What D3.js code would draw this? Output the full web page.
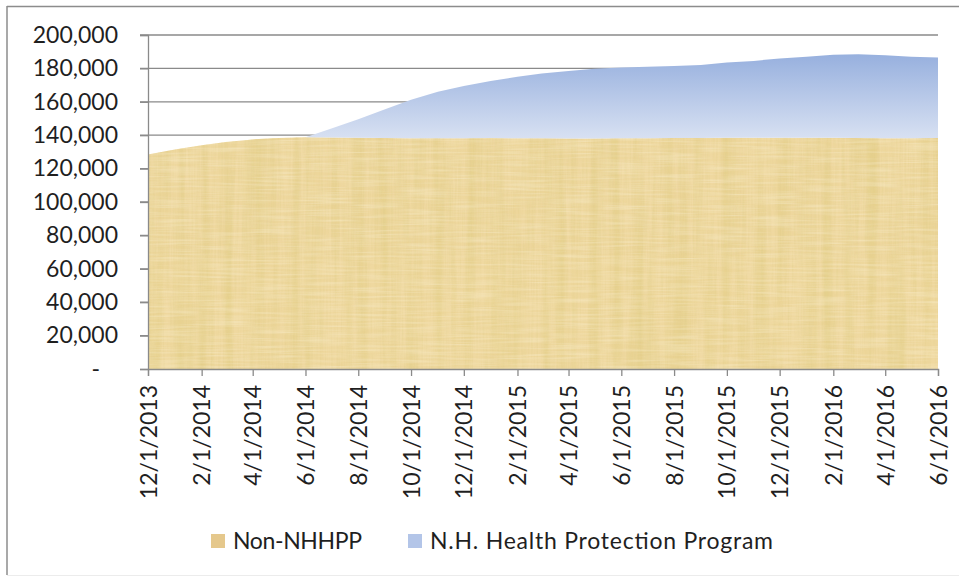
<!DOCTYPE html>
<html>
<head>
<meta charset="utf-8">
<script src="https://cdn.jsdelivr.net/npm/d3@7"></script>
<style>
  body { margin: 0; background: #fff; }
  svg { display: block; }
</style>
</head>
<body>
<svg id="chart"></svg>
<script>
const width = 959;
const height = 580;

// monthly enrollment, 12/1/2013 .. 6/1/2016
const months = [
  "12/1/2013", "1/1/2014", "2/1/2014", "3/1/2014", "4/1/2014", "5/1/2014", "6/1/2014",
  "7/1/2014", "8/1/2014", "9/1/2014", "10/1/2014", "11/1/2014", "12/1/2014",
  "1/1/2015", "2/1/2015", "3/1/2015", "4/1/2015", "5/1/2015", "6/1/2015",
  "7/1/2015", "8/1/2015", "9/1/2015", "10/1/2015", "11/1/2015", "12/1/2015",
  "1/1/2016", "2/1/2016", "3/1/2016", "4/1/2016", "5/1/2016", "6/1/2016"
];
const nonNHHPP = [
  128500, 131500, 134000, 136000, 137500, 138300, 138800,
  138600, 138400, 138300, 138200, 138100, 138200,
  138300, 138200, 138100, 138000, 138000, 138100,
  138200, 138300, 138300, 138400, 138400, 138500,
  138500, 138400, 138300, 138200, 138200, 138300
];
const nhhpp = [
  0, 0, 0, 0, 0, 0, 0,
  5400, 11100, 17200, 23100, 27900, 31300,
  34200, 36800, 38900, 40500, 41800, 42400,
  42800, 43200, 43700, 45100, 46100, 47500,
  48500, 49800, 50200, 49600, 48800, 48300
];
const tickDates = [
  "12/1/2013", "2/1/2014", "4/1/2014", "6/1/2014", "8/1/2014", "10/1/2014", "12/1/2014",
  "2/1/2015", "4/1/2015", "6/1/2015", "8/1/2015", "10/1/2015", "12/1/2015",
  "2/1/2016", "4/1/2016", "6/1/2016"
];
const yTicks = [0, 20000, 40000, 60000, 80000, 100000, 120000, 140000, 160000, 180000, 200000];
const seriesNames = ["Non-NHHPP", "N.H. Health Protection Program"];

const parse = d3.timeParse("%m/%d/%Y");
const rows = months.map(function (m, i) {
  return { date: parse(m), non: nonNHHPP[i], nh: nhhpp[i] };
});

const margin = { left: 148, right: 21, top: 35, bottom: 211 };
const x = d3.scaleTime()
  .domain(d3.extent(rows, function (d) { return d.date; }))
  .range([margin.left, width - margin.right]);
const y = d3.scaleLinear()
  .domain([0, 200000])
  .range([height - margin.bottom, margin.top]);

const stack = d3.stack().keys(["non", "nh"]);
const layers = stack(rows);

const font = "Lato, 'Open Sans', sans-serif";
const textColor = "#1f1f1f";

const svg = d3.select("#chart").attr("width", width).attr("height", height);
const defs = svg.append("defs");

// blue fill, darker at the top
const grad = defs.append("linearGradient")
  .attr("id", "blueGrad")
  .attr("x1", 0).attr("y1", 0).attr("x2", 0).attr("y2", 1);
grad.append("stop").attr("offset", "0%").attr("stop-color", "#97b0de");
grad.append("stop").attr("offset", "100%").attr("stop-color", "#e4eaf6");

// papyrus-like texture for the tan series
function noiseFilter(id, freq, seed, matrix) {
  const f = defs.append("filter").attr("id", id)
    .attr("x", 0).attr("y", 0).attr("width", 1).attr("height", 1);
  f.append("feTurbulence")
    .attr("type", "fractalNoise")
    .attr("baseFrequency", freq)
    .attr("numOctaves", 2)
    .attr("seed", seed);
  f.append("feColorMatrix")
    .attr("type", "matrix")
    .attr("values", matrix);
}
// broad darker vertical fibres
noiseFilter("streakV", "0.09 0.004", 4, "0 0 0 0 0.72  0 0 0 0 0.58  0 0 0 0 0.2  0 0 0 -2.2 1.35");
// fine vertical fibres
noiseFilter("fineV", "0.6 0.02", 7, "0 0 0 0 0.76  0 0 0 0 0.62  0 0 0 0 0.26  0 0 0 -1.8 1.1");
// light horizontal fibres
noiseFilter("streakH", "0.02 0.5", 9, "0 0 0 0 1  0 0 0 0 0.95  0 0 0 0 0.78  0 0 0 -1.6 1.0");

// outer frame
svg.append("line").attr("x1", 7).attr("x2", 7).attr("y1", 6).attr("y2", 575)
  .attr("stroke", "#8c8c8c").attr("stroke-width", 1.5);
svg.append("line").attr("x1", 7).attr("x2", width).attr("y1", 6.5).attr("y2", 6.5)
  .attr("stroke", "#8c8c8c").attr("stroke-width", 1.5);
svg.append("line").attr("x1", 7).attr("x2", width).attr("y1", 575.5).attr("y2", 575.5)
  .attr("stroke", "#ececec").attr("stroke-width", 1);

// gridlines
svg.append("g")
  .selectAll("line")
  .data(yTicks.filter(function (v) { return v > 0; }))
  .enter()
  .append("line")
  .attr("x1", margin.left - 8)
  .attr("x2", width - margin.right)
  .attr("y1", function (d) { return y(d); })
  .attr("y2", function (d) { return y(d); })
  .attr("stroke", "#8a8a8a")
  .attr("stroke-width", 1.3);

const area = d3.area()
  .x(function (d) { return x(d.data.date); })
  .y0(function (d) { return y(d[0]); })
  .y1(function (d) { return y(d[1]); });

// tan series
defs.append("clipPath").attr("id", "tanClip")
  .append("path").attr("d", area(layers[0]));

const plotW = width - margin.right - margin.left;
const plotH = height - margin.bottom - margin.top;
const tan = svg.append("g").attr("clip-path", "url(#tanClip)");
tan.append("rect")
  .attr("x", margin.left).attr("y", margin.top)
  .attr("width", plotW).attr("height", plotH)
  .attr("fill", "#efd89f");
[["streakV", 0.5], ["fineV", 0.45], ["streakH", 0.4]].forEach(function (t) {
  tan.append("rect")
    .attr("x", margin.left).attr("y", margin.top)
    .attr("width", plotW).attr("height", plotH)
    .attr("filter", "url(#" + t[0] + ")")
    .attr("opacity", t[1]);
});

// blue series
svg.append("path")
  .attr("d", area(layers[1]))
  .attr("fill", "url(#blueGrad)");

// y axis
const yAxis = svg.append("g")
  .attr("transform", "translate(" + margin.left + ",0)")
  .call(d3.axisLeft(y)
    .tickValues(yTicks)
    .tickSize(8)
    .tickPadding(22)
    .tickFormat(function (d) { return d === 0 ? "-" : d3.format(",")(d); }));
yAxis.select(".domain").attr("stroke", "#8a8a8a").attr("stroke-width", 1.3);
yAxis.selectAll(".tick line").attr("stroke", "#8a8a8a").attr("stroke-width", 1.3);
yAxis.selectAll(".tick text")
  .attr("font-family", font)
  .attr("font-size", "23px")
  .attr("fill", textColor)
  .attr("dx", function (d) { return d === 0 ? -18 : 0; });

// x axis
const xAxis = svg.append("g")
  .attr("transform", "translate(0," + (height - margin.bottom) + ")")
  .call(d3.axisBottom(x)
    .tickValues(tickDates.map(parse))
    .tickSize(7)
    .tickFormat(d3.timeFormat("%-m/%-d/%Y")));
xAxis.select(".domain").attr("stroke", "#8a8a8a").attr("stroke-width", 1.3);
xAxis.selectAll(".tick line").attr("stroke", "#8a8a8a").attr("stroke-width", 1.3);
xAxis.selectAll(".tick text")
  .attr("font-family", font)
  .attr("font-size", "23px")
  .attr("fill", textColor)
  .attr("transform", "rotate(-90)")
  .attr("text-anchor", "end")
  .attr("x", -16)
  .attr("y", 0)
  .attr("dy", "0.35em");

// legend
const legendX = [211, 408];
const legendLen = [129, 343];
const legend = svg.append("g")
  .selectAll("g")
  .data(seriesNames)
  .enter()
  .append("g")
  .attr("transform", function (d, i) { return "translate(" + legendX[i] + ",534)"; });

legend.append("rect")
  .attr("width", 14)
  .attr("height", 14)
  .attr("fill", function (d, i) { return i === 0 ? "#e5c88c" : "#b3c5e8"; });

legend.append("text")
  .text(function (d) { return d; })
  .attr("x", 22)
  .attr("y", 15)
  .attr("textLength", function (d, i) { return legendLen[i]; })
  .attr("lengthAdjust", "spacing")
  .attr("font-family", font)
  .attr("font-size", "23px")
  .attr("fill", textColor);
</script>
</body>
</html>
